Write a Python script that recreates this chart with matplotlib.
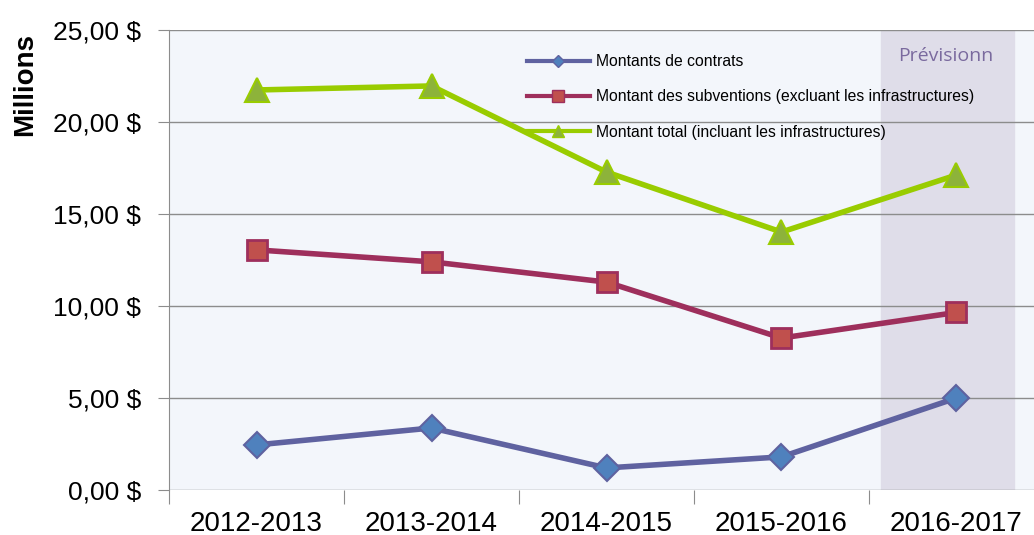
import matplotlib.pyplot as plt
from matplotlib.lines import Line2D
from matplotlib.ticker import FuncFormatter, FixedLocator

plt.rcParams['font.family'] = ['Liberation Sans', 'DejaVu Sans']

# data (millions $)
years = ['2012-2013', '2013-2014', '2014-2015', '2015-2016', '2016-2017']
contrats = [2.45, 3.37, 1.2, 1.8, 5.0]
subventions = [13.05, 12.4, 11.3, 8.26, 9.65]
total = [21.74, 21.96, 17.28, 14.02, 17.12]
labels = ['Montants de contrats',
          'Montant des subventions (excluant les infrastructures)',
          'Montant total (incluant les infrastructures)']

fig = plt.figure(figsize=(10.34, 5.35), dpi=100)
ax = fig.add_axes([169/1034, 1 - 490/535, 1 - 169/1034, 460/535])
ax.set_facecolor('#F3F6FB')

x = list(range(len(years)))

# forecast band
ax.axvspan(3.57, 4.33, color='#DFDDE9', zorder=0)
ax.text(3.94, 23.6, 'Prévisionn', color='#7A6A9E', fontsize=14,
        family=['Open Sans', 'DejaVu Sans'], ha='center', va='center')

for v in range(0, 26, 5):
    ax.axhline(v, color='#8C8C8C', lw=1, zorder=1)

ax.plot(x, contrats, color='#5F62A0', lw=4, marker='D', ms=13,
        mfc='#4F81BD', mec='#5F62A0', mew=1.5, zorder=3)
ax.plot(x, subventions, color='#9E2F5C', lw=4, marker='s', ms=15,
        mfc='#C0504D', mec='#9E2F5C', mew=2, zorder=3)
ax.plot(x, total, color='#99CC00', lw=4, marker='^', ms=17,
        mfc='#8DB33A', mec='#99CC00', mew=1.5, zorder=3)

ax.set_xlim(-0.5, -0.5 + 865/175)
ax.set_ylim(0, 25)
ax.yaxis.set_major_locator(FixedLocator(range(0, 26, 5)))
ax.yaxis.set_major_formatter(FuncFormatter(lambda v, p: f'{v:.2f}'.replace('.', ',') + ' $'))
ax.xaxis.set_major_locator(FixedLocator([i - 0.5 for i in range(len(years) + 1)]))
ax.xaxis.set_minor_locator(FixedLocator(x))
ax.set_xticklabels([])
ax.set_xticklabels(years, minor=True)
ax.tick_params(axis='x', which='major', length=10, color='#8C8C8C', direction='out')
ax.tick_params(axis='x', which='minor', length=0, labelsize=20, pad=15)
ax.tick_params(axis='y', length=8, color='#8C8C8C', labelsize=19, pad=12)

for s in ['top', 'right', 'bottom']:
    ax.spines[s].set_visible(False)
ax.spines['left'].set_color('#8C8C8C')

fig.text(25/1034, 1 - 85/535, 'Millions', rotation=90, fontsize=20,
         fontweight='bold', ha='center', va='center')

handles = [
    Line2D([], [], color='#5F62A0', lw=3, marker='D', ms=6, mfc='#4F81BD', mec='#5F62A0'),
    Line2D([], [], color='#9E2F5C', lw=3, marker='s', ms=8, mfc='#C0504D', mec='#9E2F5C'),
    Line2D([], [], color='#99CC00', lw=3, marker='^', ms=8, mfc='#8DB33A', mec='#99CC00'),
]
fig.legend(handles, labels, loc='upper left', bbox_to_anchor=(527/1034, 1 - 54/535),
           frameon=False, fontsize=11.3, handlelength=4.0, handletextpad=0.4,
           labelspacing=1.3, borderpad=0, borderaxespad=0)

fig.savefig('out.png', dpi=100)
